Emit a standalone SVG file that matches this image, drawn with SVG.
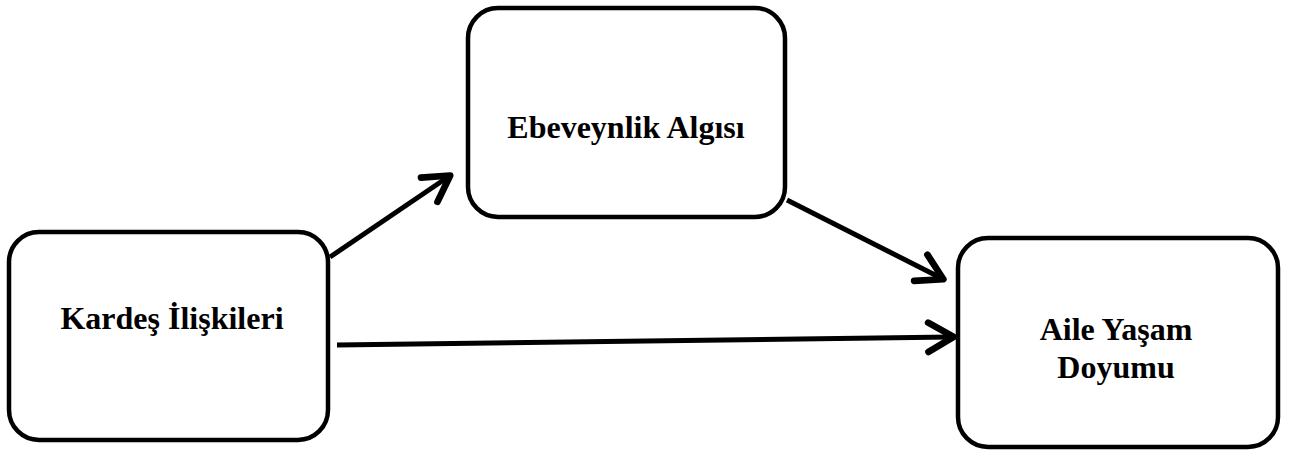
<svg xmlns="http://www.w3.org/2000/svg" width="1290" height="450" viewBox="0 0 1290 450">
<style>
.box{fill:#fff;stroke:#000;stroke-width:4.5}
.lbl{font-family:"Liberation Serif","Times New Roman",serif;font-weight:bold;font-size:32px;fill:#000;text-anchor:middle}
.conn{stroke:#000;stroke-width:5;fill:none}
</style>
<defs>
<marker id="arr" markerUnits="userSpaceOnUse" markerWidth="40" markerHeight="40" viewBox="-25 -15 30 30" refX="-2" refY="0" orient="auto" overflow="visible">
<path d="M -19 -11 L 0 0 L -19 11" fill="none" stroke="#000" stroke-width="5" stroke-linecap="round" stroke-linejoin="round"/>
</marker>
</defs>
<rect width="1290" height="450" fill="#fff"/>
<g id="connectors">
<line class="conn" x1="330" y1="257" x2="448" y2="177" marker-end="url(#arr)"/>
<line class="conn" x1="787" y1="200" x2="941" y2="278" marker-end="url(#arr)"/>
<line class="conn" x1="337" y1="345" x2="951" y2="337" marker-end="url(#arr)"/>
</g>
<g id="node-kardes">
<rect class="box" x="9" y="232" width="319" height="208" rx="30"/>
<text class="lbl" x="172" y="329">Kardeş İlişkileri</text>
</g>
<g id="node-ebeveynlik">
<rect class="box" x="468" y="8" width="317" height="209" rx="30"/>
<text class="lbl" x="626" y="138">Ebeveynlik Algısı</text>
</g>
<g id="node-aile">
<rect class="box" x="958" y="238" width="320" height="209" rx="30"/>
<text class="lbl" x="1116" y="340">Aile Yaşam</text>
<text class="lbl" x="1116" y="378">Doyumu</text>
</g>
</svg>
